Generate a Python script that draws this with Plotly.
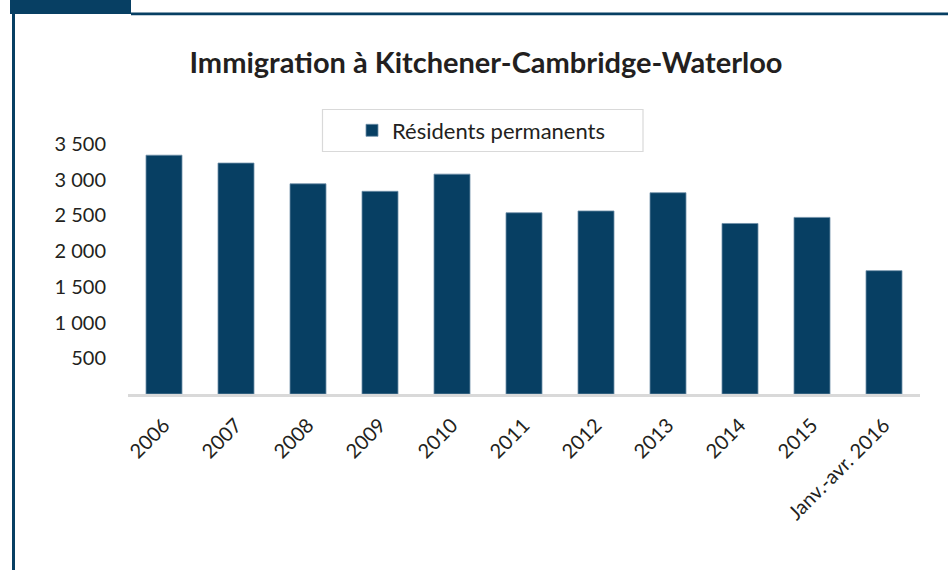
import plotly.graph_objects as go

categories = ["2006", "2007", "2008", "2009", "2010", "2011", "2012",
              "2013", "2014", "2015", "Janv.-avr. 2016"]
values = [3340, 3230, 2940, 2835, 3075, 2535, 2560, 2815, 2385, 2470, 1725]
y_ticks = [500, 1000, 1500, 2000, 2500, 3000, 3500]
series_name = "Résidents permanents"
title_text = "Immigration à Kitchener-Cambridge-Waterloo"

W, H = 948, 570
L, R, T, B = 128, 28, 108, 176
PW, PH = W - L - R, H - T - B


def px(x):
    return (x - L) / PW


def py(y):
    return 1 - (y - T) / PH


NAVY = "#073f63"
FONT = "Lato"
TXT = "#231f20"

fig = go.Figure()
fig.add_trace(go.Bar(
    x=categories, y=values, name=series_name,
    marker=dict(color=NAVY, line=dict(color="#6f8fa8", width=0.8)),
    showlegend=True,
))

shapes = [
    # top-left tab
    dict(type="rect", xref="paper", yref="paper", x0=px(10), x1=px(131), y0=py(0), y1=py(14),
         fillcolor=NAVY, line=dict(width=0), layer="above"),
    # top line
    dict(type="rect", xref="paper", yref="paper", x0=px(131), x1=px(W), y0=py(12.5), y1=py(15.3),
         fillcolor=NAVY, line=dict(width=0), layer="above"),
    # left vertical line
    dict(type="rect", xref="paper", yref="paper", x0=px(12), x1=px(15), y0=py(13), y1=py(H),
         fillcolor=NAVY, line=dict(width=0), layer="above"),
    # legend box
    dict(type="rect", xref="paper", yref="paper", x0=px(322.5), x1=px(643), y0=py(109.5), y1=py(151.5),
         fillcolor="white", line=dict(color="#d9d9d9", width=1.2), layer="below"),
]

fig.update_layout(
    width=W, height=H,
    margin=dict(l=L, r=R, t=T, b=B, pad=0),
    paper_bgcolor="white", plot_bgcolor="rgba(0,0,0,0)",
    separators=", ",
    font=dict(family=FONT, color=TXT, size=20),
    title=dict(text="<b>" + title_text + "</b>", xref="container", yref="container",
               x=486 / W, xanchor="center", y=1 - 63 / H, yanchor="middle",
               font=dict(family=FONT, size=29, color=TXT)),
    bargap=0.5,
    showlegend=True,
    legend=dict(x=px(352), xanchor="left", y=py(130.5), yanchor="middle",
                bgcolor="rgba(0,0,0,0)", borderwidth=0,
                font=dict(family=FONT, size=22, color=TXT)),
    shapes=shapes,
    xaxis=dict(showline=True, linecolor="#d9d9d9", linewidth=2.5,
               ticks="outside", ticklen=9, tickcolor="rgba(0,0,0,0)",
               tickangle=-45, showgrid=False, zeroline=False,
               tickfont=dict(family=FONT, size=20, color=TXT)),
    yaxis=dict(range=[0, 4000], tickvals=y_ticks, tickformat=",d", showgrid=False,
               zeroline=False, showline=False, ticks="", ticklabelstandoff=21,
               tickfont=dict(family=FONT, size=20, color=TXT)),
)

fig.write_html("out.html")
